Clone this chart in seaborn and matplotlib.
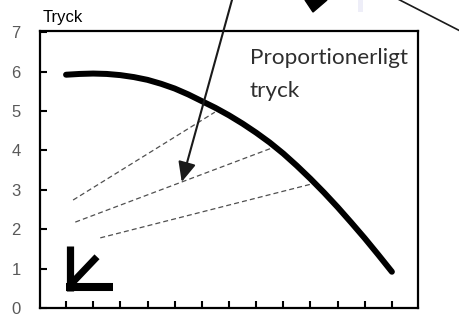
import numpy as np
import pandas as pd
import seaborn as sns
import matplotlib
matplotlib.use("Agg")
from matplotlib import pyplot as plt
from matplotlib.patches import Polygon, Rectangle
from matplotlib.lines import Line2D

# pump curve
flow = [0, 2.5, 5, 7.5, 10, 12.5, 15, 17.5, 20, 22.5, 25, 27.5, 30,
        32.5, 35, 37.5, 40, 42.5, 45, 47.5, 50, 52.5, 55, 57.5, 60]
pressure = [5.92, 5.94, 5.95, 5.94, 5.91, 5.86, 5.79, 5.69, 5.57, 5.42, 5.25, 5.08, 4.89,
            4.68, 4.45, 4.20, 3.92, 3.61, 3.28, 2.93, 2.56, 2.17, 1.77, 1.35, 0.92]

# dashed helper lines (start -> end on the curve)
dash_x0 = [1.3, 1.7, 6.3]
dash_y0 = [2.74, 2.18, 1.78]
dash_x1 = [27.4, 37.9, 45.3]
dash_y1 = [4.97, 4.06, 3.15]

x_ticks = [0, 5, 10, 15, 20, 25, 30, 35, 40, 45, 50, 55, 60]
x_ticklabels = ['0', '', '10', '', '20', '', '30', '', '40', '', '50', '', '60']
y_ticks = [0, 1, 2, 3, 4, 5, 6, 7]

df = pd.DataFrame({'Flow': flow, 'Tryck': pressure})

sns.set_theme(style="white")
plt.rcParams['font.family'] = ['Liberation Sans', 'DejaVu Sans']

fig = plt.figure(figsize=(4.59, 3.29), dpi=100)
ax = fig.add_axes([0.0871, 0.0638, 0.8235, 0.842])

sns.lineplot(data=df, x='Flow', y='Tryck', color='black', linewidth=4.3,
             solid_capstyle='round', solid_joinstyle='round', ax=ax)

for x0, y0, x1, y1 in zip(dash_x0, dash_y0, dash_x1, dash_y1):
    ax.plot([x0, x1], [y0, y1], color='#505050', linewidth=0.9, dashes=(4, 2.5))

ax.set_xlim(-4.8, 64.8)
ax.set_ylim(0, 7.03)
ax.set_xticks(x_ticks)
ax.set_xticklabels(x_ticklabels)
ax.set_yticks(y_ticks)
ax.tick_params(axis='x', direction='in', length=5, width=1.5, color='black',
               pad=15, labelsize=12, labelcolor='#cccccc')
ax.tick_params(axis='y', direction='in', length=5, width=1.5, color='black',
               pad=14, labelsize=12, labelcolor='#595959')
ax.tick_params(bottom=True, left=True)
ax.set_xlabel('')
ax.set_ylabel('')
for s in ax.spines.values():
    s.set_visible(True)
    s.set_color('black')
    s.set_linewidth(1.6)

ax.text(0.008, 1.032, 'Tryck', transform=ax.transAxes, fontsize=12,
        color='black', ha='left', va='baseline')
ax.text(0.555, 0.94, 'Proportionerligt\ntryck', transform=ax.transAxes,
        fontsize=16.2, color='#2e2e2e', ha='left', va='top', linespacing=1.85,
        family=['Lato', 'DejaVu Sans'])

# big arrow coming in from above
ax.annotate('', xy=(21.3, 3.2), xycoords='data',
            xytext=(237.5 / 459, 1 + 20 / 329), textcoords='figure fraction',
            arrowprops=dict(arrowstyle='-|>,head_length=1.0,head_width=0.45',
                            color='#1a1a1a', lw=1.5, mutation_scale=12,
                            shrinkA=0, shrinkB=0),
            annotation_clip=False)

# corner chevron
ax.plot([0.64, 0.64], [1.58, 0.43], color='black', lw=5.2, solid_capstyle='butt')
ax.plot([0.0, 8.65], [0.53, 0.53], color='black', lw=5.8, solid_capstyle='butt')
ax.plot([1.0, 5.7], [0.62, 1.30], color='black', lw=5.0, solid_capstyle='butt')

# bits of other shapes cut off at the top
fig.add_artist(Polygon([[305 / 459, 1.0], [327 / 459, 1.0], [313 / 459, 1 - 12 / 329]],
                       closed=True, transform=fig.transFigure, color='black'))
fig.add_artist(Rectangle((358 / 459, 1 - 12 / 329), 5 / 459, 12 / 329,
                         transform=fig.transFigure, color='#eeeef8', lw=0))
fig.add_artist(Line2D([390 / 459, 470 / 459], [1 + 5 / 329, 1 - 36 / 329],
                      transform=fig.transFigure, color='#1a1a1a', lw=1.2))

fig.savefig('out.png', dpi=100)
